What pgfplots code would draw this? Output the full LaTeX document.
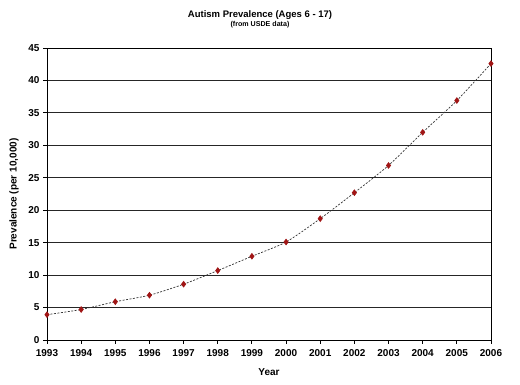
\documentclass[border=0pt]{standalone}
\usepackage{pgfplots}
\pgfplotsset{compat=1.18}
\usepackage{fontspec}
\setmainfont{Liberation Sans}
\definecolor{mk}{HTML}{A01515}
\begin{document}
\begin{tikzpicture}[x=1pt,y=1pt]
\path[use as bounding box] (-47,-45) rectangle (473,340);
\begin{axis}[
  at={(0,0)}, anchor=origin,
  scale only axis, width=444pt, height=292pt,
  xmin=1993, xmax=2006, ymin=0, ymax=45,
  xtick={1993,...,2006}, ytick={0,5,...,45},
  x tick label style={/pgf/number format/1000 sep={}},
  /pgf/number format/assume math mode=true,
  tick label style={font=\fontsize{10}{11}\selectfont\bfseries},
  ymajorgrids, major grid style={black!85, line width=0.8pt},
  axis line style={black, line width=0.8pt},
  tick style={black, line width=0.8pt},
  tick align=outside, major tick length=4pt,
  xtick pos=bottom, ytick pos=left,
  xticklabel style={yshift=-2pt},
  clip=false,
  xlabel={Year}, ylabel={Prevalence (per 10,000)},
  label style={font=\fontsize{10}{11}\selectfont\bfseries},
  xlabel style={at={(axis description cs:0.5,0)}, anchor=center, yshift=-32pt},
  ylabel style={at={(axis description cs:0,0.5)}, anchor=center, xshift=0pt, yshift=33pt},
]
\addplot[black!80, dash pattern=on 2pt off 1.5pt, line width=0.7pt, smooth, tension=0.4,
  mark=diamond*, mark size=2.8pt, mark options={solid, fill=mk, draw=mk}]
  coordinates {
  (1993,3.9) (1994,4.7) (1995,5.9) (1996,6.9) (1997,8.6) (1998,10.7) (1999,12.9)
  (2000,15.1) (2001,18.7) (2002,22.7) (2003,26.9) (2004,32.0) (2005,36.9) (2006,42.6)
  };
\end{axis}
\node[font=\fontsize{9.5}{10}\selectfont\bfseries] at (213,325) {Autism Prevalence (Ages 6 - 17)};
\node[font=\fontsize{7.1}{8}\selectfont\bfseries] at (213,315.5) {(from USDE data)};
\end{tikzpicture}
\end{document}
